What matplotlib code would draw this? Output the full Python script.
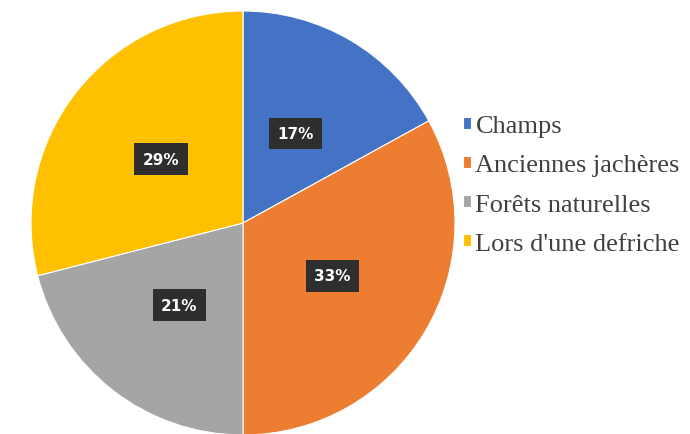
import matplotlib
matplotlib.use("Agg")
import matplotlib.pyplot as plt

categories = ["Champs", "Anciennes jachères", "Forêts naturelles", "Lors d'une defriche"]
shares = [17, 33, 21, 29]
colors = ["#4472C4", "#ED7D31", "#A5A5A5", "#FFC000"]

W, H = 690, 435
fig = plt.figure(figsize=(W / 100, H / 100), dpi=100)
fig.patch.set_facecolor("white")

# pie centre ~ (243, 224) px, radius ~ 212 px
cx, cy, r = 243, 224, 212
ax = fig.add_axes([(cx - r) / W, 1 - (cy + r) / H, 2 * r / W, 2 * r / H])

wedges, texts, autotexts = ax.pie(
    shares, colors=colors, startangle=90, counterclock=False,
    autopct="%d%%", pctdistance=0.49, radius=1.0,
    wedgeprops=dict(edgecolor="white", linewidth=0.8),
)
for t in autotexts:
    t.set_color("white")
    t.set_fontweight("bold")
    t.set_fontsize(11)
    t.set_family("DejaVu Sans")
    t.set_bbox(dict(boxstyle="square,pad=0.55", facecolor="#2E2E2E", edgecolor="none"))
ax.set_xlim(-1, 1)
ax.set_ylim(-1, 1)
ax.set_aspect("auto")

leg = fig.legend(
    wedges, categories, loc="center left",
    bbox_to_anchor=(463 / W, 1 - 186 / H), frameon=False,
    prop={"family": "Liberation Serif", "size": 19},
    handlelength=0.32, handleheight=0.32, handletextpad=0.15,
    labelspacing=0.65, borderaxespad=0, borderpad=0,
)
for t in leg.get_texts():
    t.set_color("#404040")

fig.savefig("out.png", dpi=100)
